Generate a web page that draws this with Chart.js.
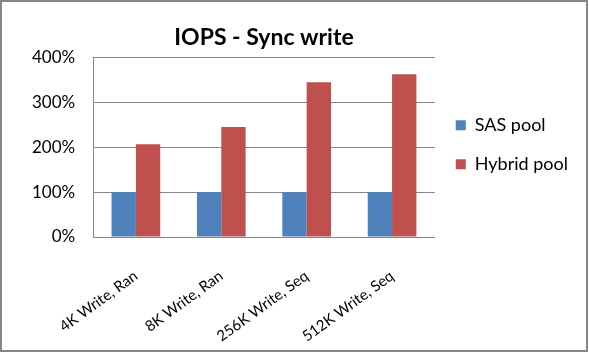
<!DOCTYPE html>
<html>
<head>
<meta charset="utf-8">
<script src="https://cdn.jsdelivr.net/npm/chart.js@4/dist/chart.umd.min.js"></script>
<style>
  html, body { margin: 0; padding: 0; background: #fff; }
  #wrap { width: 589px; height: 352px; position: relative; }
</style>
</head>
<body>
<div id="wrap"><canvas id="iopsChart" width="589" height="352"></canvas></div>
<script>
// Chart data
const categories = ['4K Write, Ran', '8K Write, Ran', '256K Write, Seq', '512K Write, Seq'];
const sasPool = [100, 100, 100, 100];
const hybridPool = [207, 245, 345, 363];
const yTicks = [0, 100, 200, 300, 400];

const gridColor = '#868686';
const fontFamily = 'Lato, "Open Sans", sans-serif';

// Outer frame like the original chart border
const framePlugin = {
    id: 'frame',
    beforeDraw(chart) {
        const ctx = chart.ctx;
        ctx.save();
        ctx.fillStyle = '#fff';
        ctx.fillRect(0, 0, chart.width, chart.height);
        ctx.strokeStyle = '#868686';
        ctx.lineWidth = 2;
        ctx.strokeRect(1, 1, chart.width - 3, chart.height - 2);
        ctx.restore();
    }
};

const ctx = document.getElementById('iopsChart').getContext('2d');
new Chart(ctx, {
    type: 'bar',
    data: {
        labels: categories,
        datasets: [
            {
                label: 'SAS pool',
                data: sasPool,
                backgroundColor: '#4f81bd',
                categoryPercentage: 0.57,
                barPercentage: 1.0
            },
            {
                label: 'Hybrid pool',
                data: hybridPool,
                backgroundColor: '#c0504d',
                categoryPercentage: 0.57,
                barPercentage: 1.0
            }
        ]
    },
    options: {
        responsive: false,
        animation: false,
        devicePixelRatio: 1,
        layout: {
            padding: { left: 14, right: 14, top: 10, bottom: 0 }
        },
        scales: {
            x: {
                grid: { display: false },
                border: { color: gridColor },
                // the rotated labels reserve more room than they use
                afterFit: (scale) => { scale.height = 115; },
                ticks: {
                    color: '#000',
                    font: { family: fontFamily, size: 15 },
                    minRotation: 36,
                    maxRotation: 36,
                    padding: 22
                }
            },
            y: {
                min: 0,
                max: 400,
                afterBuildTicks: (axis) => {
                    axis.ticks = yTicks.map(v => ({ value: v }));
                },
                grid: { color: gridColor, drawTicks: false },
                border: { color: gridColor },
                ticks: {
                    color: '#000',
                    font: { family: fontFamily, size: 17 },
                    padding: 18,
                    callback: (v) => v + '%'
                }
            }
        },
        plugins: {
            title: {
                display: true,
                fullSize: false,
                text: 'IOPS - Sync write',
                color: '#000',
                font: { family: fontFamily, size: 23, weight: 'bold' },
                padding: { top: 14, bottom: 6 }
            },
            legend: {
                position: 'right',
                align: 'start',
                title: {
                    display: true,
                    text: '',
                    font: { family: fontFamily, size: 16 },
                    padding: { top: 0, bottom: 66 }
                },
                labels: {
                    color: '#000',
                    font: { family: fontFamily, size: 18 },
                    boxWidth: 10,
                    boxHeight: 10,
                    padding: 21
                }
            },
            tooltip: { enabled: false }
        }
    },
    plugins: [framePlugin]
});
</script>
</body>
</html>
